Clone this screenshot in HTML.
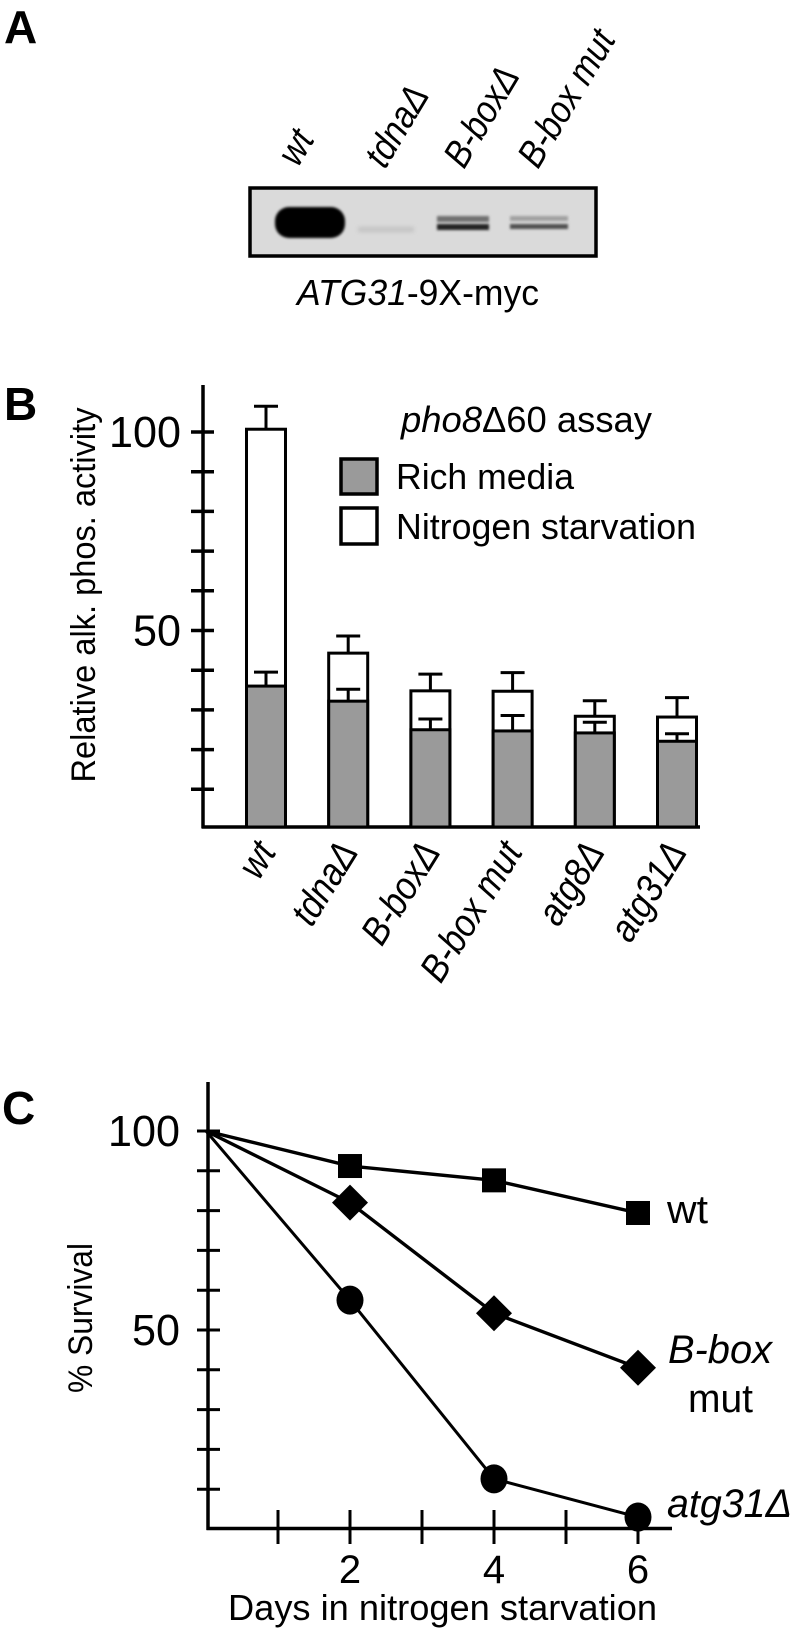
<!DOCTYPE html>
<html><head><meta charset="utf-8"><style>
html,body{margin:0;padding:0;background:#fff}
svg{display:block}
text{font-family:"Liberation Sans",Arial,sans-serif;fill:#000}
</style></head><body>
<svg id="fig" width="797" height="1633" viewBox="0 0 797 1633" xmlns="http://www.w3.org/2000/svg">
<defs>
  <filter id="blur2" x="-20%" y="-100%" width="140%" height="300%"><feGaussianBlur stdDeviation="2"/></filter>
  <filter id="blur1" x="-20%" y="-100%" width="140%" height="300%"><feGaussianBlur stdDeviation="1.2"/></filter>
</defs>
<!-- Panel A -->
<g>
  <text x="4" y="43" font-size="46" font-weight="bold">A</text>
  <g font-size="38" font-style="italic">
    <text transform="translate(298,168) rotate(-59) scale(0.88,1)">wt</text>
    <text transform="translate(385,170) rotate(-59) scale(0.88,1)">tdnaΔ</text>
    <text transform="translate(464,170) rotate(-59) scale(0.88,1)">B-boxΔ</text>
    <text transform="translate(538,170) rotate(-59) scale(0.88,1)">B-box mut</text>
  </g>
  <g>
    <rect x="250" y="188" width="346" height="68" fill="#dadada" stroke="#000" stroke-width="3.5"/>
    <rect x="275" y="207" width="70" height="31" rx="14" fill="#050505" filter="url(#blur1)"/>
    <rect x="358" y="227" width="56" height="5" fill="#c2c2c2" filter="url(#blur2)"/>
    <rect x="437" y="216" width="52" height="6" fill="#707070" filter="url(#blur1)"/>
    <rect x="437" y="224" width="52" height="6" fill="#222" filter="url(#blur1)"/>
    <rect x="510" y="216" width="58" height="5" fill="#a0a0a0" filter="url(#blur1)"/>
    <rect x="510" y="224" width="58" height="5" fill="#505050" filter="url(#blur1)"/>
  </g>
  <text x="297" y="305" font-size="36" textLength="242" lengthAdjust="spacingAndGlyphs"><tspan font-style="italic">ATG31</tspan>-9X-myc</text>
</g>

<!-- Panel B -->
<g id="panelB">
  <text x="4" y="420" font-size="46" font-weight="bold">B</text>
  <text transform="translate(95,595) rotate(-90)" text-anchor="middle" font-size="34" textLength="375" lengthAdjust="spacingAndGlyphs">Relative alk. phos. activity</text>
  <text x="401" y="432" font-size="36" textLength="251" lengthAdjust="spacingAndGlyphs"><tspan font-style="italic">pho8</tspan>Δ60 assay</text>
  <rect x="341" y="459" width="36" height="35" fill="#9a9a9a" stroke="#000" stroke-width="3.5"/>
  <text x="396" y="489" font-size="36" textLength="178" lengthAdjust="spacingAndGlyphs">Rich media</text>
  <rect x="341" y="508" width="36" height="36" fill="#fff" stroke="#000" stroke-width="3.5"/>
  <text x="396" y="539" font-size="36" textLength="300" lengthAdjust="spacingAndGlyphs">Nitrogen starvation</text>
</g>

<!-- Panel C -->
<g id="panelC">
  <text x="2" y="1124" font-size="46" font-weight="bold">C</text>
  <text transform="translate(92,1318) rotate(-90)" text-anchor="middle" font-size="34" textLength="150" lengthAdjust="spacingAndGlyphs">% Survival</text>
  <text x="228" y="1620" font-size="36" textLength="429" lengthAdjust="spacingAndGlyphs">Days in nitrogen starvation</text>
</g>
</svg>
<script>
// ---- Panel B data ----
const bCategories = ["wt", "tdnaΔ", "B-boxΔ", "B-box mut", "atg8Δ", "atg31Δ"];
const bRich = [36, 32.2, 25, 24.7, 24.2, 22.1];
const bRichErr = [39.5, 35.2, 27.7, 28.6, 26.9, 24];
const bNitrogen = [100.7, 44.3, 34.8, 34.7, 28.4, 28.2];
const bNitrogenErr = [106.5, 48.6, 39, 39.4, 32.3, 33.1];
const bTickValues = [100, 90, 80, 70, 60, 50, 40, 30, 20, 10];
const bTickLabels = ["100", "50"];
const bTickLabelValues = [100, 50];

// ---- Panel C data ----
const cDays = [0, 2, 4, 6];
const cWt = [100, 91.2, 87.6, 79.4];
const cBbox = [100, 82, 54.2, 40.5];
const cAtg31 = [100, 57.5, 12.6, 3];
const cXTicks = [1, 2, 3, 4, 5, 6];
const cXLabels = ["2", "4", "6"];
const cXLabelValues = [2, 4, 6];
const cYTicks = [100, 90, 80, 70, 60, 50, 40, 30, 20, 10];
const cYLabels = ["100", "50"];
const cYLabelValues = [100, 50];

const NS = "http://www.w3.org/2000/svg";
function mk(tag, attrs, parent) {
  const e = document.createElementNS(NS, tag);
  for (const k in attrs) e.setAttribute(k, attrs[k]);
  parent.appendChild(e);
  return e;
}

// ---- Panel B ----
(function () {
  const g = document.getElementById("panelB");
  const yB = v => 829 - v * 3.97;
  const xB = i => 266 + i * 82.2;
  const barW = 39;
  const ax = mk("line", { x1: 203, y1: 385, x2: 203, y2: 828, stroke: "#000", "stroke-width": 3.5 }, g);
  
  
  const axx = mk("line", { x1: 201.5, y1: 827, x2: 700, y2: 827, stroke: "#000", "stroke-width": 3.5 }, g);
  
  
  bTickValues.forEach(v => {
    const t = mk("line", { x1: 191, y1: yB(v), x2: 214, y2: yB(v), stroke: "#000", "stroke-width": 3.5 }, g);
    
    
  });
  bTickLabelValues.forEach((v, i) => {
    const t = mk("text", { x: 181, y: yB(v) + 15, "font-size": 44, "text-anchor": "end", textLength: i === 0 ? 72 : 48, lengthAdjust: "spacingAndGlyphs" }, g);
    t.textContent = bTickLabels[i];
    
    
  });
  bCategories.forEach((c, i) => {
    const cx = xB(i);
    const nb = mk("rect", { x: cx - barW / 2, y: yB(bNitrogen[i]), width: barW, height: 827 - yB(bNitrogen[i]), fill: "#fff", stroke: "#000", "stroke-width": 3 }, g);
    
    
    const ne = mk("path", { d: `M${cx},${yB(bNitrogen[i])}V${yB(bNitrogenErr[i])}M${cx - 12},${yB(bNitrogenErr[i])}H${cx + 12}`, stroke: "#000", "stroke-width": 3, fill: "none" }, g);
    
    
    const rb = mk("rect", { x: cx - barW / 2, y: yB(bRich[i]), width: barW, height: 827 - yB(bRich[i]), fill: "#9a9a9a", stroke: "#000", "stroke-width": 3 }, g);
    
    
    const re = mk("path", { d: `M${cx},${yB(bRich[i])}V${yB(bRichErr[i])}M${cx - 12},${yB(bRichErr[i])}H${cx + 12}`, stroke: "#000", "stroke-width": 3, fill: "none" }, g);
    
    
    const lb = mk("text", { transform: `translate(${cx + 11},852) rotate(-58) scale(0.88,1)`, "font-size": 39, "font-style": "italic", "text-anchor": "end" }, g);
    lb.textContent = c;
    
    
  });
})();

// ---- Panel C ----
(function () {
  const g = document.getElementById("panelC");
  const xC = d => 206 + d * 72;
  const yC = v => 1529 - v * 3.98;
  const a1 = mk("line", { x1: 208, y1: 1082, x2: 208, y2: 1530, stroke: "#000", "stroke-width": 3.5 }, g);
  
  
  const a2 = mk("line", { x1: 206.5, y1: 1528.5, x2: 672, y2: 1528.5, stroke: "#000", "stroke-width": 3.5 }, g);
  
  
  cYTicks.forEach(v => {
    const t = mk("line", { x1: 197, y1: yC(v), x2: 220, y2: yC(v), stroke: "#000", "stroke-width": 3 }, g);
    
    
  });
  cYLabelValues.forEach((v, i) => {
    const t = mk("text", { x: 180, y: yC(v) + 15, "font-size": 44, "text-anchor": "end", textLength: i === 0 ? 72 : 48, lengthAdjust: "spacingAndGlyphs" }, g);
    t.textContent = cYLabels[i];
    
    
  });
  cXTicks.forEach(d => {
    const t = mk("line", { x1: xC(d), y1: 1510, x2: xC(d), y2: 1544, stroke: "#000", "stroke-width": 3 }, g);
    
    
  });
  cXLabelValues.forEach((d, i) => {
    const t = mk("text", { x: xC(d), y: 1583, "font-size": 40, "text-anchor": "middle" }, g);
    t.textContent = cXLabels[i];
    
    
  });
  function series(vals, name, sw) {
    const pts = cDays.map((d, i) => xC(d) + "," + yC(vals[i])).join(" ");
    const l = mk("polyline", { points: pts, fill: "none", stroke: "#000", "stroke-width": sw }, g);
    
    
  }
  series(cWt, "wt", 3.4);
  series(cBbox, "bbox-mut", 3.4);
  series(cAtg31, "atg31", 3);
  cDays.forEach((d, i) => {
    if (i === 0) return;
    const x = xC(d);
    const s = mk("rect", { x: x - 12, y: yC(cWt[i]) - 12, width: 24, height: 24, fill: "#000" }, g);
    
    
    const yy = yC(cBbox[i]);
    const dm = mk("polygon", { points: `${x},${yy - 18} ${x + 18},${yy} ${x},${yy + 18} ${x - 18},${yy}`, fill: "#000" }, g);
    
    
    const c = mk("ellipse", { cx: x, cy: yC(cAtg31[i]), rx: 13.5, ry: 14.5, fill: "#000" }, g);
    
    
  });
  const t1 = mk("text", { x: 667, y: 1223, "font-size": 40, textLength: 41, lengthAdjust: "spacingAndGlyphs" }, g);
  t1.textContent = "wt";
  
  
  const t2 = mk("text", { x: 668, y: 1363, "font-size": 40, "font-style": "italic", textLength: 104, lengthAdjust: "spacingAndGlyphs" }, g);
  t2.textContent = "B-box";
  
  
  const t3 = mk("text", { x: 688, y: 1412, "font-size": 40, textLength: 65, lengthAdjust: "spacingAndGlyphs" }, g);
  t3.textContent = "mut";
  
  
  const t4 = mk("text", { x: 667, y: 1517, "font-size": 40, "font-style": "italic", textLength: 125, lengthAdjust: "spacingAndGlyphs" }, g);
  t4.textContent = "atg31Δ";
  
  
})();
</script>
</body></html>
